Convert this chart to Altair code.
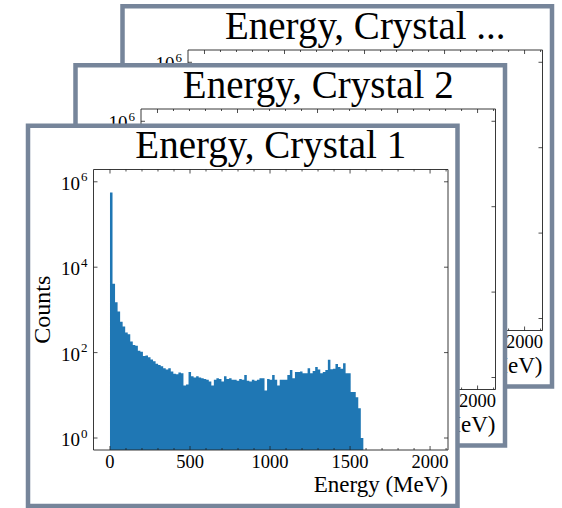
import altair as alt
import pandas as pd

# ---------------- data ----------------
ENERGY_COUNTS = [560000, 4070, 1510, 912, 525, 407, 295, 269, 182, 151,
                 145, 110, 105, 83, 85, 78, 69, 63, 55, 51,
                 48, 43, 40, 43, 36, 32, 31, 34, 33, 17,
                 18, 35, 28, 26, 28, 26, 25, 24, 23, 21,
                 17, 23, 25, 24, 21, 28, 24, 25, 23, 23,
                 22, 24, 23, 30, 22, 21, 23, 22, 23, 25,
                 25, 13, 24, 23, 30, 23, 17, 23, 23, 23,
                 30, 39, 25, 35, 35, 36, 33, 33, 43, 33,
                 37, 46, 40, 33, 35, 39, 68, 41, 42, 54,
                 46, 42, 56, 33, 33, 12, 12, 9, 5, 1]
BIN_WIDTH = 15.83  # MeV

X_TICKS_MAJOR = [0, 500, 1000, 1500, 2000]
X_TICK_LABELS = ["0", "500", "1000", "1500", "2000"]
X_TICKS_MINOR = [100, 200, 300, 400, 600, 700, 800, 900, 1100, 1200, 1300,
                 1400, 1600, 1700, 1800, 1900, 2100]
Y_TICKS = [1, 100, 10000, 1000000]
Y_EXPONENTS = ["0", "2", "4", "6"]

CARD_TITLES = ["Energy, Crystal ...", "Energy, Crystal 2", "Energy, Crystal 1"]

# ---------------- styling / layout ----------------
FONT = "Liberation Serif"
CARD_COLOR = "#76859a"
BAR_COLOR = "#1f77b4"
W, H = 354.5, 280.5
X_DOMAIN = [-103, 2112]
Y_DOMAIN = [0.524, 1.94e6]
xs = alt.Scale(domain=X_DOMAIN, nice=False, zero=False)
ys = alt.Scale(type="log", domain=Y_DOMAIN, nice=False)

one = pd.DataFrame({"k": [0]})
n_bins = len(ENERGY_COUNTS)
# step outline of the histogram: each bin's left edge, plus the last bin's right edge
hist_df = pd.DataFrame({
    "edge": [i * BIN_WIDTH for i in range(n_bins)] + [n_bins * BIN_WIDTH],
    "count": ENERGY_COUNTS + [ENERGY_COUNTS[-1]],
})
xmaj_df = pd.DataFrame({"v": X_TICKS_MAJOR, "label": X_TICK_LABELS})
xmin_df = pd.DataFrame({"v": X_TICKS_MINOR})
y_df = pd.DataFrame({"v": Y_TICKS, "exp": Y_EXPONENTS})


def card(title, dx, dy, front):
    o = dict(xOffset=dx, yOffset=dy)
    o2 = dict(xOffset=dx, yOffset=dy, x2Offset=dx, y2Offset=dy)
    # on the cards behind, only the labels that peek out are drawn
    xlab_df = xmaj_df if front else xmaj_df[xmaj_df["v"] == 2000]
    ylab_df = y_df if front else y_df[y_df["v"] == 1000000]
    L = []
    # card background + border
    L.append(alt.Chart(one).mark_rect(fill="white", stroke=CARD_COLOR, strokeWidth=4.5, **o2).encode(
        x=alt.value(-65.5), x2=alt.value(364), y=alt.value(-43.7), y2=alt.value(336.5)))
    # title
    L.append(alt.Chart(one).mark_text(text=title, font=FONT, fontSize=39, align="center",
                                      baseline="alphabetic", color="black", **o).encode(
        x=alt.value(W / 2), y=alt.value(-11.5)))
    if front:
        L.append(alt.Chart(hist_df).mark_area(color=BAR_COLOR, interpolate="step-after", opacity=1).encode(
            x=alt.X("edge:Q", scale=xs, axis=None),
            y=alt.Y("count:Q", scale=ys, axis=None),
            y2=alt.datum(Y_DOMAIN[0])))
    # plot frame
    L.append(alt.Chart(one).mark_rect(filled=False, stroke="#222222", strokeWidth=0.9, **o2).encode(
        x=alt.value(0), x2=alt.value(W), y=alt.value(0), y2=alt.value(H)))
    # x ticks (bottom + top, inward)
    for df, ln in ((xmaj_df, 4), (xmin_df, 2)):
        L.append(alt.Chart(df).mark_rule(color="#222222", strokeWidth=0.8, **o2).encode(
            x=alt.X("v:Q", scale=xs, axis=None), y=alt.value(H), y2=alt.value(H - ln)))
        L.append(alt.Chart(df).mark_rule(color="#222222", strokeWidth=0.8, **o2).encode(
            x=alt.X("v:Q", scale=xs, axis=None), y=alt.value(0), y2=alt.value(ln)))
    # y ticks (left + right, inward)
    L.append(alt.Chart(y_df).mark_rule(color="#222222", strokeWidth=0.8, **o2).encode(
        y=alt.Y("v:Q", scale=ys, axis=None), x=alt.value(0), x2=alt.value(4)))
    L.append(alt.Chart(y_df).mark_rule(color="#222222", strokeWidth=0.8, **o2).encode(
        y=alt.Y("v:Q", scale=ys, axis=None), x=alt.value(W), x2=alt.value(W - 4)))
    # x tick labels
    L.append(alt.Chart(xlab_df).mark_text(font=FONT, fontSize=18.5, align="center", baseline="alphabetic",
                                          color="black", **o).encode(
        x=alt.X("v:Q", scale=xs, axis=None), y=alt.value(298), text="label:N"))
    # y tick labels: "10" + superscript exponent
    L.append(alt.Chart(ylab_df).mark_text(text="10", font=FONT, fontSize=19, align="right", baseline="alphabetic",
                                          color="black", xOffset=dx, yOffset=dy + 8).encode(
        y=alt.Y("v:Q", scale=ys, axis=None), x=alt.value(-13.5)))
    L.append(alt.Chart(ylab_df).mark_text(font=FONT, fontSize=13, align="left", baseline="alphabetic",
                                          color="black", xOffset=dx, yOffset=dy - 0.5).encode(
        y=alt.Y("v:Q", scale=ys, axis=None), x=alt.value(-12.5), text="exp:N"))
    # axis titles
    if front:
        L.append(alt.Chart(one).mark_text(text="Counts", font=FONT, fontSize=24, angle=270, align="center",
                                          baseline="alphabetic", color="black", **o).encode(
            x=alt.value(-43.5), y=alt.value(H / 2)))
    L.append(alt.Chart(one).mark_text(text="Energy (MeV)", font=FONT, fontSize=23, align="right",
                                      baseline="alphabetic", color="black", **o).encode(
        x=alt.value(W), y=alt.value(322.5)))
    return L


layers = []
layers += card(CARD_TITLES[0], 94.5, -119.5, False)
layers += card(CARD_TITLES[1], 47.5, -60.5, False)
layers += card(CARD_TITLES[2], 0, 0, True)

chart = alt.layer(*layers).properties(
    width=W, height=H,
    padding={"left": 93.5, "top": 169.5, "right": 114, "bottom": 58},
    autosize=alt.AutoSizeParams(type="none"),
).configure_view(stroke=None).configure(background="white")

chart.save("out.html", embed_options={"renderer": "svg", "actions": False})
